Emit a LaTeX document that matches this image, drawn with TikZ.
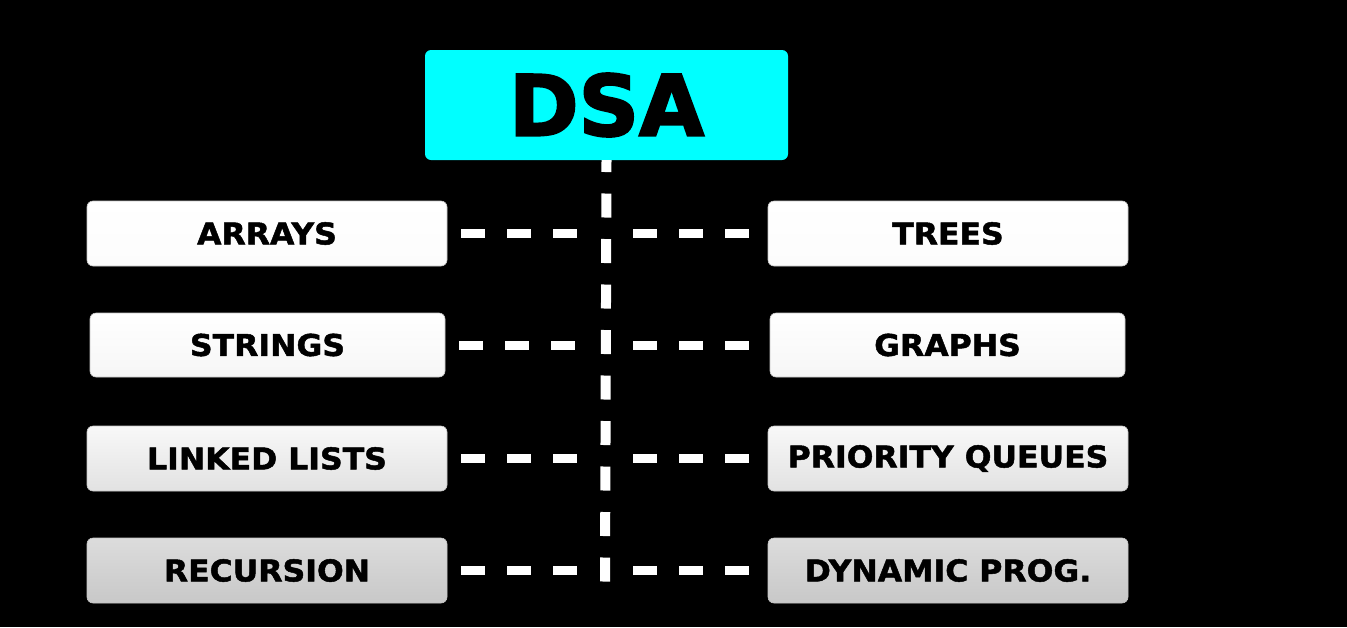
\documentclass[tikz,border=0pt]{standalone}
\usepackage{fontspec}
\newfontfamily\boxfont{DejaVu Sans}[FakeStretch=1.05, BoldFeatures={FakeBold=1.6}]
\newfontfamily\titlefont{DejaVu Sans}[BoldFeatures={FakeBold=2.6}]
\definecolor{dsacyan}{RGB}{0,255,255}
\definecolor{rAtop}{RGB}{255,255,255}
\definecolor{rAbot}{RGB}{252,252,252}
\definecolor{rBtop}{RGB}{255,255,255}
\definecolor{rBbot}{RGB}{246,246,246}
\definecolor{rCtop}{RGB}{248,248,248}
\definecolor{rCbot}{RGB}{226,226,226}
\definecolor{rDtop}{RGB}{220,220,220}
\definecolor{rDbot}{RGB}{200,200,200}
\begin{document}
\begin{tikzpicture}[x=1pt,y=-1pt,
  item/.style={rounded corners=6pt, draw=gray!45, line width=0.6pt,
    minimum width=360pt, minimum height=65pt, inner sep=0pt,
    font=\boxfont\bfseries\fontsize{30}{30}\selectfont, text=black},
  rowA/.style={item, top color=rAtop, bottom color=rAbot},
  rowB/.style={item, top color=rBtop, bottom color=rBbot, minimum width=355pt, minimum height=64pt},
  rowC/.style={item, top color=rCtop, bottom color=rCbot},
  rowD/.style={item, top color=rDtop, bottom color=rDbot},
  conn/.style={draw=white, line width=9pt, dash pattern=on 24pt off 22pt},
  spine/.style={draw=white, line width=10pt, dash pattern=on 24pt off 21.5pt}
]
\fill[black] (0,0) rectangle (1347,627);
\useasboundingbox (0,0) rectangle (1347,627);

\node[fill=dsacyan, rounded corners=6pt, minimum width=363pt, minimum height=110pt,
  inner sep=0pt, font=\titlefont\bfseries\fontsize{84}{84}\selectfont, text=black]
  (dsa) at (606.5,105) {DSA};

\node[rowA] (arrays) at (267,233.5) {ARRAYS};
\node[rowB] (strings) at (267.5,345) {STRINGS};
\node[rowC] (linked) at (267,458.5) {LINKED LISTS};
\node[rowD] (recursion) at (267,570.5) {RECURSION};

\node[rowA] (trees) at (948,233.5) {TREES};
\node[rowB] (graphs) at (947.5,345) {GRAPHS};
\node[rowC] (pq) at (948,458.5) {PRIORITY QUEUES};
\node[rowD] (dp) at (948,570.5) {DYNAMIC PROG.};

\coordinate (sp) at (605,0);
\coordinate (spbot) at (605,581.5);

\draw[spine] (spbot) -- (dsa.south);

\foreach \l/\r in {arrays/trees, strings/graphs, linked/pq, recursion/dp}{
  \draw[conn, shorten <=14pt, shorten >=28pt] (\l.east) -- (\l.east -| sp);
  \draw[conn, shorten <=28pt, shorten >=19pt] (\r.west -| sp) -- (\r.west);
}
\end{tikzpicture}
\end{document}
